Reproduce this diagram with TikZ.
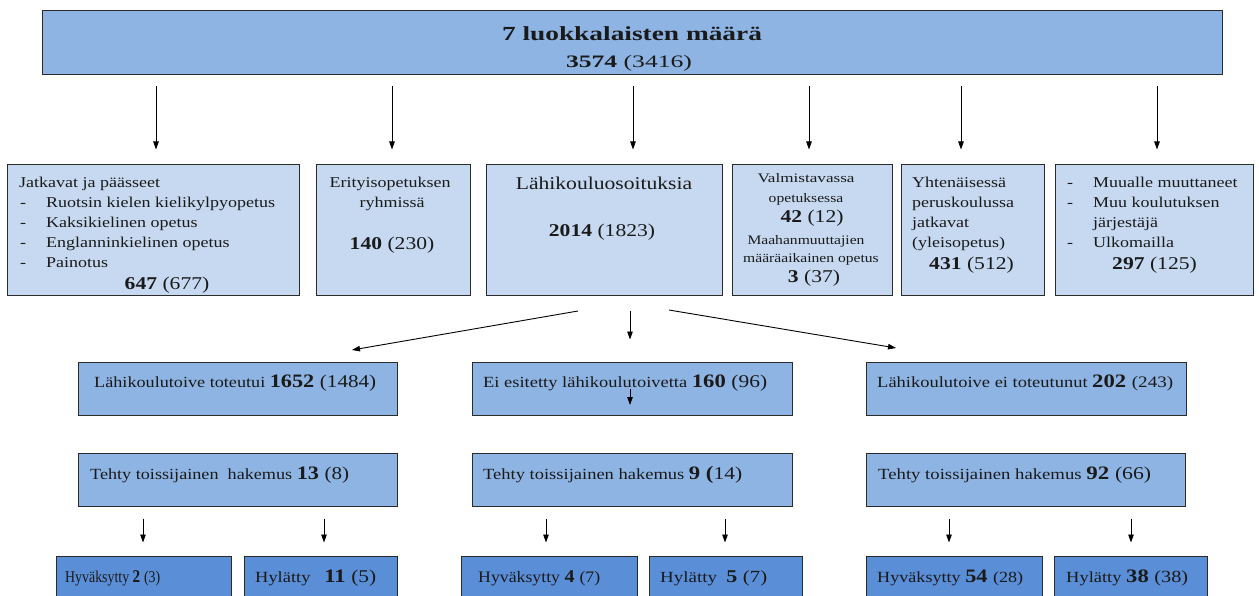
\documentclass[tikz,border=0pt]{standalone}
\usepackage{fontspec}
\usepackage{graphicx}
\setmainfont{Liberation Serif}
\newfontfamily\rowf{Liberation Serif}[FakeStretch=1.2]
\usetikzlibrary{fit,arrows.meta}
\definecolor{topblue}{HTML}{8EB4E3}
\definecolor{lightblue}{HTML}{C6D9F1}
\definecolor{darkblue}{HTML}{5A8ED6}
\definecolor{edge}{HTML}{2B2B2B}
\definecolor{txt}{HTML}{1A1A1A}
\newcommand\fs[1]{\fontsize{#1}{#1}\selectfont}
\newsavebox\hfitbox
\newcommand\hfit[2]{\sbox\hfitbox{#2}\edef\hfitwd{\the\wd\hfitbox}\pgfmathsetmacro\hfitsx{#1/\hfitwd}\scalebox{\hfitsx}[1]{\usebox\hfitbox}}
\begin{document}
\begin{tikzpicture}[x=1pt,y=-1pt,
  box/.style={draw=edge, line width=1pt, inner sep=0pt},
  arr/.style={draw=black, line width=0.9pt, -{Triangle[length=8pt,width=5.5pt]}},
  lbl/.style={anchor=base west, inner sep=0pt, text=txt},
  clbl/.style={anchor=base, inner sep=0pt, text=txt}]
\useasboundingbox (0,0) rectangle (1259,596);
\fill[white] (0,0) rectangle (1259,596);
\clip (0,0) rectangle (1259,596);

% ---------- top box
\node[box, fill=topblue, fit={(42,11) (1222,75)}] (top) {};
\node[clbl] (ttl) at (632,41) {\hfit{260}{\fs{20}\bfseries 7 luokkalaisten määrä}};
\node[clbl] (tnum) at (629,68) {\hfit{126}{\fs{17.5}\textbf{3574} (3416)}};

% ---------- second row
\node[box, fill=lightblue, fit={(7,165) (299,296)}] (b1) {};
\node[box, fill=lightblue, fit={(316,165) (470,296)}] (b2) {};
\node[box, fill=lightblue, fit={(486,165) (722,296)}] (b3) {};
\node[box, fill=lightblue, fit={(732,165) (892,296)}] (b4) {};
\node[box, fill=lightblue, fit={(901,165) (1044,296)}] (b5) {};
\node[box, fill=lightblue, fit={(1055,165) (1253,296)}] (b6) {};

% box 1
\node[lbl] (b1l1) at (19,188) {\rowf\fs{15}Jatkavat ja päässeet};
\node[lbl] (b1d2) at (20,208) {\rowf\fs{15}-};
\node[lbl] (b1l2) at (46,208) {\rowf\fs{15}Ruotsin kielen kielikylpyopetus};
\node[lbl] (b1d3) at (20,228) {\rowf\fs{15}-};
\node[lbl] (b1l3) at (46,228) {\rowf\fs{15}Kaksikielinen opetus};
\node[lbl] (b1d4) at (20,248) {\rowf\fs{15}-};
\node[lbl] (b1l4) at (46,248) {\rowf\fs{15}Englanninkielinen opetus};
\node[lbl] (b1d5) at (20,268) {\rowf\fs{15}-};
\node[lbl] (b1l5) at (46,268) {\rowf\fs{15}Painotus};
\node[clbl] (b1n) at (167,290) {\rowf\fs{18}\textbf{647} (677)};

% box 2
\node[clbl] (b2l1) at (390,188) {\rowf\fs{15}Erityisopetuksen};
\node[clbl] (b2l2) at (392,208) {\rowf\fs{15}ryhmissä};
\node[clbl] (b2n) at (392,250) {\rowf\fs{18}\textbf{140} (230)};

% box 3
\node[clbl] (b3l1) at (604,190) {\rowf\fs{18}Lähikouluosoituksia};
\node[clbl] (b3n) at (602,237) {\rowf\fs{18}\textbf{2014} (1823)};

% box 4
\node[clbl] (b4l1) at (806,183) {\hfit{97}{\rowf\fs{13}Valmistavassa}};
\node[clbl] (b4l2) at (806,203) {\rowf\fs{13}opetuksessa};
\node[clbl] (b4n1) at (812,223) {\rowf\fs{18}\textbf{42} (12)};
\node[clbl] (b4l3) at (806,245) {\rowf\fs{13}Maahanmuuttajien};
\node[clbl] (b4l4) at (811,263) {\rowf\fs{13}määräaikainen opetus};
\node[clbl] (b4n2) at (814,283) {\rowf\fs{18}\textbf{3} (37)};

% box 5
\node[lbl] (b5l1) at (912,188) {\rowf\fs{15}Yhtenäisessä};
\node[lbl] (b5l2) at (912,208) {\rowf\fs{15}peruskoulussa};
\node[lbl] (b5l3) at (912,228) {\rowf\fs{15}jatkavat};
\node[lbl] (b5l4) at (912,248) {\rowf\fs{15}(yleisopetus)};
\node[lbl] (b5n) at (929,270) {\rowf\fs{18}\textbf{431} (512)};

% box 6
\node[lbl] (b6d1) at (1067,188) {\rowf\fs{15}-};
\node[lbl] (b6l1) at (1093,188) {\rowf\fs{15}Muualle muuttaneet};
\node[lbl] (b6d2) at (1067,208) {\rowf\fs{15}-};
\node[lbl] (b6l2) at (1093,208) {\rowf\fs{15}Muu koulutuksen};
\node[lbl] (b6l3) at (1093,228) {\rowf\fs{15}järjestäjä};
\node[lbl] (b6d4) at (1067,248) {\rowf\fs{15}-};
\node[lbl] (b6l4) at (1093,248) {\rowf\fs{15}Ulkomailla};
\node[lbl] (b6n) at (1112,270) {\rowf\fs{18}\textbf{297} (125)};

% arrows top -> row 2
\coordinate (ax1) at (156,0);
\coordinate (ax2) at (392,0);
\coordinate (ax3) at (633,0);
\coordinate (ax4) at (809,0);
\coordinate (ax5) at (961,0);
\coordinate (ax6) at (1157,0);
\foreach \i in {1,...,6}
  \draw[arr, shorten <=11pt, shorten >=15pt] (top.south -| ax\i) -- (b\i.north -| ax\i);

% ---------- third row
\node[box, fill=topblue, fit={(78,362) (397,415)}] (m1) {};
\node[box, fill=topblue, fit={(472,362) (792,415)}] (m2) {};
\node[box, fill=topblue, fit={(866,362) (1186,415)}] (m3) {};
\node[lbl] (m1t) at (94,387) {\hfit{282}{\fs{15.5}Lähikoulutoive toteutui \fs{19}\textbf{1652} \fs{18}(1484)}};
\node[lbl] (m2t) at (483,387) {\hfit{284}{\fs{15.5}Ei esitetty lähikoulutoivetta \fs{19}\textbf{160} \fs{18}(96)}};
\node[lbl] (m3t) at (877,387) {\hfit{296}{\fs{15.5}Lähikoulutoive ei toteutunut \fs{19}\textbf{202} \fs{16}(243)}};

\coordinate (d1s) at (578,311);
\coordinate (d1e) at (352,350);
\coordinate (d3s) at (669,310);
\coordinate (d3e) at (896,348);
\coordinate (ax7) at (630,0);
\draw[arr] (d1s) -- (d1e);
\draw[arr, shorten <=14pt, shorten >=22pt] (b3.south -| ax7) -- (m2.north -| ax7);
\draw[arr] (d3s) -- (d3e);
% small arrow inside the middle box
\coordinate (st1) at (630,389);
\coordinate (st2) at (630,405);
\draw[arr] (st1) -- (st2);

% ---------- fourth row
\node[box, fill=topblue, fit={(78,453) (397,506)}] (t1) {};
\node[box, fill=topblue, fit={(472,453) (792,506)}] (t2) {};
\node[box, fill=topblue, fit={(866,453) (1185,506)}] (t3) {};
\node[lbl] (t1t) at (90,479) {\hfit{259}{\fs{15.5}Tehty toissijainen\ \ hakemus \fs{19}\textbf{13} \fs{18}(8)}};
\node[lbl] (t2t) at (483,479) {\hfit{259}{\fs{15.5}Tehty toissijainen hakemus \fs{19}\textbf{9 (}\fs{18}14)}};
\node[lbl] (t3t) at (878,479) {\hfit{273}{\fs{15.5}Tehty toissijainen hakemus \fs{19}\textbf{92} \fs{18}(66)}};

% ---------- fifth row
\node[box, fill=darkblue, fit={(56,556) (231,612)}] (h1) {};
\node[box, fill=darkblue, fit={(244,556) (397,612)}] (h2) {};
\node[box, fill=darkblue, fit={(461,556) (637,612)}] (h3) {};
\node[box, fill=darkblue, fit={(649,556) (802,612)}] (h4) {};
\node[box, fill=darkblue, fit={(866,556) (1042,612)}] (h5) {};
\node[box, fill=darkblue, fit={(1054,556) (1207,612)}] (h6) {};
\node[lbl] (h1t) at (65,582) {\hfit{95}{\fs{16.5}Hyväksytty \fs{18}\textbf{2} \fs{16.5}(3)}};
\node[lbl] (h2t) at (255,582) {\hfit{121}{\fs{15.5}Hylätty\ \ \ \fs{19}\textbf{11} \fs{18}(5)}};
\node[lbl] (h3t) at (478,582) {\hfit{122}{\fs{16}Hyväksytty \fs{18}\textbf{4} \fs{16}(7)}};
\node[lbl] (h4t) at (660,582) {\hfit{107}{\fs{15.5}Hylätty\ \ \fs{18}\textbf{5} \fs{17}(7)}};
\node[lbl] (h5t) at (877,582) {\hfit{146}{\fs{15.5}Hyväksytty \fs{19}\textbf{54} \fs{15.5}(28)}};
\node[lbl] (h6t) at (1066,582) {\hfit{122}{\fs{15.5}Hylätty \fs{19}\textbf{38} \fs{17}(38)}};

\coordinate (bx1) at (143,0);
\coordinate (bx2) at (324,0);
\coordinate (bx3) at (546,0);
\coordinate (bx4) at (725,0);
\coordinate (bx5) at (949,0);
\coordinate (bx6) at (1131,0);
\draw[arr, shorten <=12pt, shorten >=13pt] (t1.south -| bx1) -- (h1.north -| bx1);
\draw[arr, shorten <=12pt, shorten >=13pt] (t1.south -| bx2) -- (h2.north -| bx2);
\draw[arr, shorten <=12pt, shorten >=13pt] (t2.south -| bx3) -- (h3.north -| bx3);
\draw[arr, shorten <=12pt, shorten >=13pt] (t2.south -| bx4) -- (h4.north -| bx4);
\draw[arr, shorten <=12pt, shorten >=13pt] (t3.south -| bx5) -- (h5.north -| bx5);
\draw[arr, shorten <=12pt, shorten >=13pt] (t3.south -| bx6) -- (h6.north -| bx6);
\end{tikzpicture}
\end{document}
